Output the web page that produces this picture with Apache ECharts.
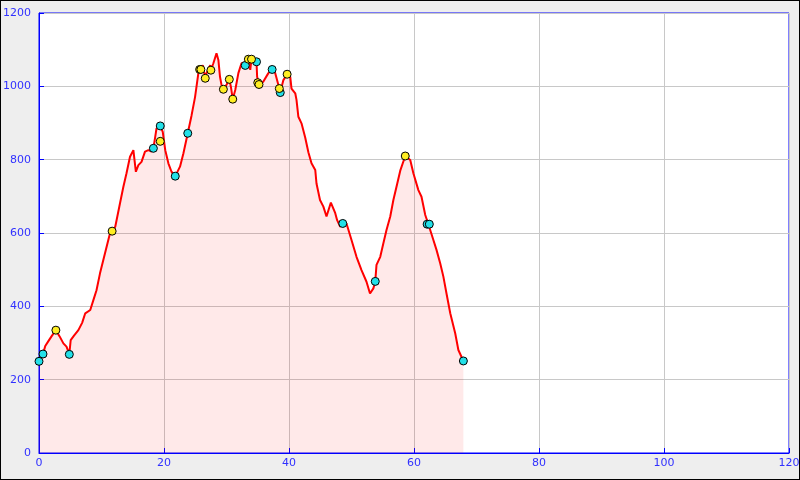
<!DOCTYPE html>
<html><head><meta charset="utf-8">
<script src="https://cdn.jsdelivr.net/npm/echarts@6/dist/echarts.min.js"></script>
<style>
html,body{margin:0;padding:0;background:#eeeeee;}
#c{width:800px;height:480px;box-sizing:border-box;border:1px solid #000;background:#eeeeee;}
</style></head><body>
<div id="c"></div>
<script>
const xTicks = [0, 20, 40, 60, 80, 100, 120];
const yTicks = [0, 200, 400, 600, 800, 1000, 1200];
const dist = [0,0.3,0.64,1.0,1.5,2.0,2.7,3.3,3.9,4.4,4.85,5.07,5.6,6.3,6.9,7.4,8.2,8.7,9.2,9.76,10.56,11.36,11.7,12.2,12.96,13.5,14.0,14.56,15.1,15.5,15.9,16.4,16.96,17.5,18.0,18.3,18.6,18.8,19.4,19.8,20.2,20.7,21.2,21.8,22.56,23.1,23.8,24.4,24.96,25.5,25.9,26.2,26.6,26.8,27.4,27.5,27.9,28.4,28.7,28.96,29.2,29.5,30.0,30.45,30.7,31.0,31.4,31.9,32.4,33.0,33.5,33.8,34.0,34.8,34.9,35.2,35.9,36.7,37.3,37.8,38.45,38.6,39.1,39.7,40.2,40.4,41.0,41.2,41.5,42.0,42.6,43.1,43.6,44.2,44.4,44.96,45.5,46.0,46.7,47.4,47.7,48.2,48.6,49.2,50.0,50.8,51.6,52.4,52.96,53.5,53.8,54.0,54.6,55.1,55.6,56.2,56.7,57.2,57.8,58.6,59.4,59.9,60.7,61.2,61.8,62.3,63.1,63.6,64.2,64.7,65.2,65.8,66.6,67.1,67.9];
const elev = [250,262,270,292,305,318,335,318,299,290,270,308,320,335,355,381,390,417,444,490,545,599,605,617,681,726,763,808,826,767,785,794,822,826,822,831,863,885,892,876,826,790,767,755,781,817,872,920,970,1036,1046,1058,1022,1036,1058,1044,1063,1090,1072,1026,1004,992,1004,1019,999,965,990,1036,1063,1065,1074,1045,1074,1067,1026,1005,1013,1036,1046,1036,994,983,1017,1033,1026,994,981,963,917,899,860,820,790,772,735,690,672,645,683,654,635,617,626,626,581,535,499,467,435,449,468,513,535,572,608,645,690,726,770,810,799,763,717,699,649,624,581,554,517,481,435,381,326,281,251];
const cyanX = [0,0.64,4.85,18.3,19.4,21.8,23.8,33.0,34.8,37.3,38.6,48.6,53.8,62.1,62.45,67.9];
const cyanY = [250,270,269,831,892,755,872,1057,1067,1046,983,626,468,624,624,251];
const yellowX = [2.7,11.7,19.4,25.7,25.9,26.6,27.5,29.5,30.45,31.0,33.5,34.0,35.0,35.2,38.45,39.7,58.6];
const yellowY = [335,605,850,1046,1046,1022,1044,992,1019,965,1074,1074,1010,1005,994,1033,810];

const chart = echarts.init(document.getElementById('c'), null, {renderer:'canvas'});
const lbl = {color:'#3030ff', fontFamily:'DejaVu Sans', fontSize:11, formatter:(v)=>String(v)};
chart.setOption({
  animation:false,
  backgroundColor:'#eeeeee',
  grid:{left:38, right:10, top:12, bottom:26, containLabel:false, outerBoundsMode:'none', show:true, backgroundColor:'#ffffff', borderColor:'#0000ff', borderWidth:1},
  xAxis:{type:'value', min:xTicks[0], max:xTicks[xTicks.length-1], interval:20,
    axisLine:{show:true, lineStyle:{color:'#0000ff', width:1}},
    axisTick:{show:true, inside:true, length:5, lineStyle:{color:'#0000ff'}},
    axisLabel:Object.assign({margin:5}, lbl),
    splitLine:{show:true, lineStyle:{color:'#c8c8c8', width:1}}},
  yAxis:{type:'value', min:yTicks[0], max:yTicks[yTicks.length-1], interval:200,
    axisLine:{show:true, lineStyle:{color:'#0000ff', width:1}},
    axisTick:{show:true, inside:true, length:5, lineStyle:{color:'#0000ff'}},
    axisLabel:Object.assign({margin:8}, lbl),
    splitLine:{show:true, lineStyle:{color:'#c8c8c8', width:1}}},
  series:[
    {type:'line', data:dist.map((d,i)=>[d,elev[i]]), showSymbol:false, symbol:'none',
      lineStyle:{color:'#ff0000', width:2}, areaStyle:{color:'rgba(255,0,0,0.12)', origin:'start'}, z:2},
    {type:'scatter', data:cyanX.map((d,i)=>[d,cyanY[i]]), symbol:'circle', symbolSize:8,
      itemStyle:{color:'#22e0e8', borderColor:'#000000', borderWidth:1, opacity:1}, z:3},
    {type:'scatter', data:yellowX.map((d,i)=>[d,yellowY[i]]), symbol:'circle', symbolSize:8,
      itemStyle:{color:'#ffee22', borderColor:'#000000', borderWidth:1, opacity:1}, z:4}
  ]
});
</script>
</body></html>
